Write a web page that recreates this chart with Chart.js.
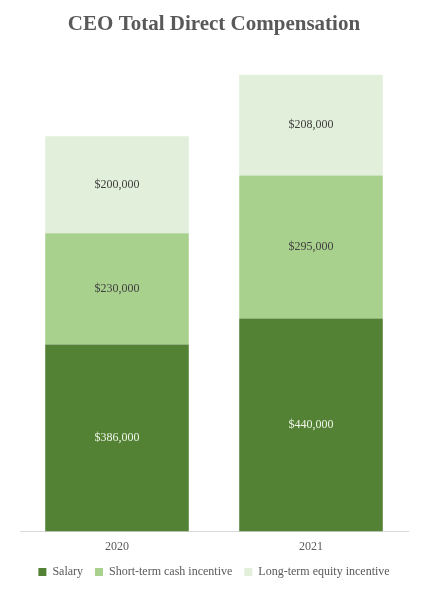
<!DOCTYPE html>
<html>
<head>
<meta charset="utf-8">
<script src="https://cdn.jsdelivr.net/npm/chart.js@4/dist/chart.umd.min.js"></script>
<style>
  html, body { margin: 0; padding: 0; background: #fff; }
  #wrap { width: 428px; height: 590px; }
</style>
</head>
<body>
<div id="wrap"><canvas id="chart"></canvas></div>
<script>
// Chart data
const years = ["2020", "2021"];
const salary = [386000, 440000];
const shortTerm = [230000, 295000];
const longTerm = [200000, 208000];

const serif = "'Liberation Serif', 'Times New Roman', serif";

const money = v => "$" + v.toLocaleString("en-US");

// Draw the value in the middle of each bar segment
const segmentLabels = {
  id: "segmentLabels",
  afterDatasetsDraw(chart) {
    const ctx = chart.ctx;
    ctx.save();
    ctx.font = "12px " + serif;
    ctx.textAlign = "center";
    ctx.textBaseline = "middle";
    chart.data.datasets.forEach((ds, i) => {
      chart.getDatasetMeta(i).data.forEach((bar, j) => {
        const mid = (bar.y + bar.base) / 2;
        ctx.fillStyle = ds.labelColor;
        ctx.fillText(money(ds.data[j]), bar.x, mid);
      });
    });
    ctx.restore();
  }
};

new Chart(document.getElementById("chart"), {
  type: "bar",
  data: {
    labels: years,
    datasets: [
      { label: "Salary", data: salary, backgroundColor: "#548235", labelColor: "#eef5e8" },
      { label: "Short-term cash incentive", data: shortTerm, backgroundColor: "#a9d18e", labelColor: "#404040" },
      { label: "Long-term equity incentive", data: longTerm, backgroundColor: "#e2efda", labelColor: "#404040" }
    ]
  },
  options: {
    responsive: true,
    maintainAspectRatio: false,
    animation: false,
    barPercentage: 0.74,
    categoryPercentage: 1,
    layout: { padding: { left: 20, right: 20, top: 10, bottom: 2 } },
    plugins: {
      title: {
        display: true,
        text: "CEO Total Direct Compensation",
        color: "#595959",
        font: { family: serif, size: 21, weight: "bold" },
        padding: { top: 2, bottom: 10 }
      },
      legend: {
        position: "bottom",
        labels: {
          color: "#595959",
          font: { family: serif, size: 12 },
          boxWidth: 8,
          boxHeight: 8,
          padding: 12
        }
      },
      tooltip: { enabled: false }
    },
    scales: {
      x: {
        stacked: true,
        grid: { display: false },
        border: { color: "#d9d9d9" },
        ticks: { color: "#595959", font: { family: serif, size: 12 }, padding: 0 }
      },
      y: {
        stacked: true,
        display: false,
        min: 0,
        max: 1000000
      }
    }
  },
  plugins: [segmentLabels]
});
</script>
</body>
</html>
